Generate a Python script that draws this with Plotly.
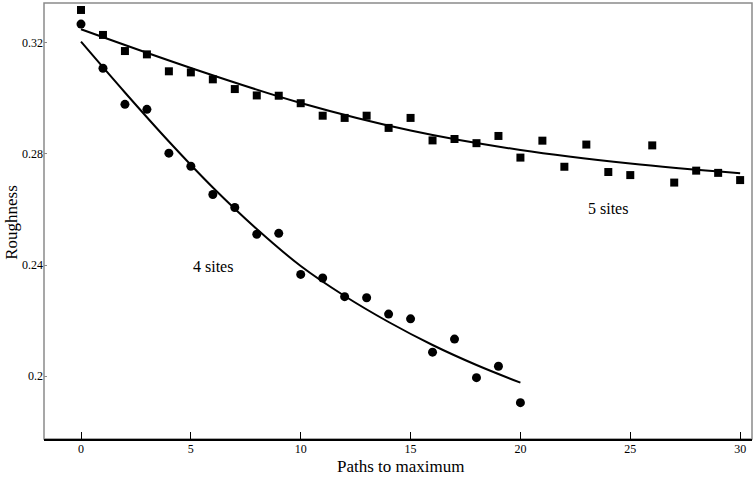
import plotly.graph_objects as go

# Observed points
x5 = list(range(0, 31))
y5 = [0.3319, 0.3229, 0.3171, 0.3159, 0.3098, 0.3094, 0.3069, 0.3034, 0.3011, 0.3010,
      0.2983, 0.2938, 0.2930, 0.2938, 0.2894, 0.2930, 0.2849, 0.2854, 0.2839, 0.2865,
      0.2787, 0.2848, 0.2754, 0.2834, 0.2735, 0.2724, 0.2831, 0.2697, 0.2740, 0.2732,
      0.2706]

x4 = list(range(0, 21))
y4 = [0.3268, 0.3109, 0.2979, 0.2961, 0.2803, 0.2756, 0.2654, 0.2607, 0.2511, 0.2514,
      0.2366, 0.2353, 0.2286, 0.2282, 0.2223, 0.2206, 0.2086, 0.2133, 0.1994, 0.2035,
      0.1904]

# Fitted curves
fit5_x = [0, 5, 10, 15, 20, 25, 30]
fit5_y = [0.32494, 0.31099, 0.29838, 0.28847, 0.28144, 0.27658, 0.27305]

fit4_x = [0, 2, 4, 6, 8, 10, 12, 14, 16, 18, 20]
fit4_y = [0.32047, 0.30216, 0.28450, 0.26793, 0.25297, 0.23964, 0.22883, 0.21946,
          0.21117, 0.20396, 0.19759]

x_ticks = [0, 5, 10, 15, 20, 25, 30]
y_ticks = [0.2, 0.24, 0.28, 0.32]
y_tick_text = ["0.2", "0.24", "0.28", "0.32"]

labels = ["4 sites", "5 sites"]
label_x = [6.0, 24.0]
label_y = [0.2393, 0.2602]

x_title = "Paths to maximum"
y_title = "Roughness"

FONT = "Liberation Serif, Times New Roman, serif"

fig = go.Figure()
fig.add_trace(go.Scatter(x=fit5_x, y=fit5_y, mode="lines", line=dict(color="black", width=2, shape="spline"),
                         hoverinfo="skip", showlegend=False))
fig.add_trace(go.Scatter(x=fit4_x, y=fit4_y, mode="lines", line=dict(color="black", width=2, shape="spline"),
                         hoverinfo="skip", showlegend=False))
fig.add_trace(go.Scatter(x=x5, y=y5, mode="markers", marker=dict(symbol="square", size=8, color="black"),
                         name="5 sites", showlegend=False))
fig.add_trace(go.Scatter(x=x4, y=y4, mode="markers", marker=dict(symbol="circle", size=9, color="black"),
                         name="4 sites", showlegend=False))

for t, lx, ly in zip(labels, label_x, label_y):
    fig.add_annotation(x=lx, y=ly, text=t, showarrow=False, font=dict(family=FONT, size=16, color="black"))

fig.add_annotation(xref="paper", yref="paper", x=0.504, y=-0.062, text=x_title, showarrow=False,
                   xanchor="center", yanchor="middle", font=dict(family=FONT, size=17, color="black"))
fig.add_annotation(xref="paper", yref="paper", x=-0.0452, y=0.498, text=y_title, showarrow=False,
                   textangle=-90, xanchor="center", yanchor="middle",
                   font=dict(family=FONT, size=17, color="black"))

fig.add_shape(type="rect", xref="paper", yref="paper", x0=0, y0=0, x1=1, y1=1,
              line=dict(color="#8a8a8a", width=1.5), layer="below")

fig.update_layout(
    width=756, height=478,
    margin=dict(l=44, r=4, t=3, b=39),
    paper_bgcolor="white", plot_bgcolor="white",
    font=dict(family=FONT, color="black"),
    xaxis=dict(range=[-1.684, 30.54], tickvals=x_ticks, ticks="inside", ticklen=7, tickwidth=1,
               tickcolor="black", showgrid=False, zeroline=False, showline=True, linecolor="black",
               linewidth=1.5, tickfont=dict(size=12, family=FONT), automargin=False,
               ticklabelstandoff=-2),
    yaxis=dict(range=[0.1773, 0.33441], tickvals=y_ticks, ticktext=y_tick_text, ticks="inside",
               ticklen=3, tickcolor="#8a8a8a", showgrid=False, zeroline=False, showline=False,
               tickfont=dict(size=12, family=FONT), automargin=False),
)

fig.write_html("out.html", config={"displayModeBar": False},
               post_script="document.body.style.margin='0';document.body.style.padding='0';document.body.style.overflow='hidden';")
